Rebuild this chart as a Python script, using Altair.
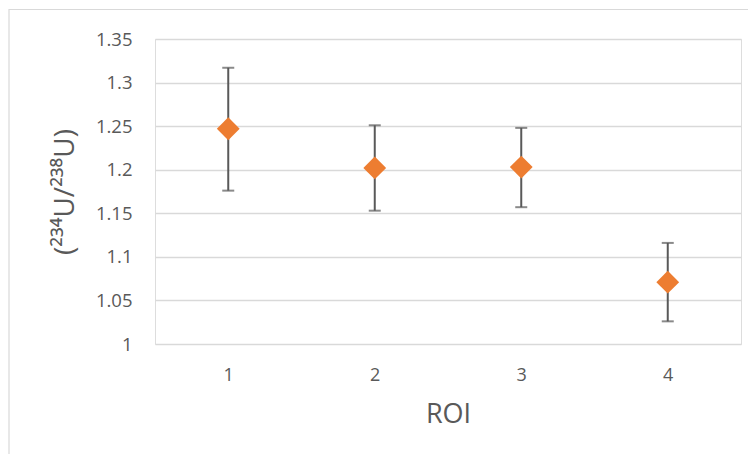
import altair as alt
import pandas as pd

roi = ["1", "2", "3", "4"]
ratio = [1.247, 1.202, 1.203, 1.071]
err_low = [1.176, 1.153, 1.157, 1.026]
err_high = [1.317, 1.251, 1.248, 1.116]
y_ticks = [1.0, 1.05, 1.1, 1.15, 1.2, 1.25, 1.3, 1.35]

df = pd.DataFrame({"roi": roi, "ratio": ratio, "low": err_low, "high": err_high})

FONT = "Open Sans"
GRAY = "#595959"

x_enc = alt.X(
    "roi:O",
    scale=alt.Scale(type="point", padding=0.5),
    axis=alt.Axis(
        title="ROI", labelAngle=0, domain=False, ticks=False, grid=False,
        labelFont=FONT, labelFontSize=18, labelColor=GRAY, labelPadding=22,
        titleFont=FONT, titleFontSize=27, titleFontWeight="normal", titleColor=GRAY,
        titlePadding=17,
    ),
)
y_scale = alt.Scale(domain=[1.0, 1.35], nice=False, zero=False)
y_axis = alt.Axis(
    title="(²³⁴U/²³⁸U)", values=y_ticks, format=".2~f", domain=False, ticks=False,
    grid=True, gridColor="#d9d9d9", gridWidth=1.4,
    labelFont=FONT, labelFontSize=18.5, labelColor=GRAY, labelPadding=23,
    titleFont=FONT, titleFontSize=28, titleFontWeight="normal", titleColor=GRAY,
    titlePadding=16,
)

base = alt.Chart(df)

frame = alt.Chart(alt.Data(values=[{"a": 1}])).mark_rect(
    fill=None, stroke="#d9d9d9", strokeWidth=1.2
).encode(
    x=alt.value(-146), x2=alt.value(620), y=alt.value(-29.5), y2=alt.value(460)
)

rules = base.mark_rule(color=GRAY, strokeWidth=2).encode(
    x=x_enc,
    y=alt.Y("low:Q", scale=y_scale, axis=y_axis),
    y2="high:Q",
)
cap_hi = base.mark_tick(color=GRAY, thickness=2, size=12, orient="horizontal").encode(
    x=x_enc, y=alt.Y("high:Q", scale=y_scale)
)
cap_lo = base.mark_tick(color=GRAY, thickness=2, size=12, orient="horizontal").encode(
    x=x_enc, y=alt.Y("low:Q", scale=y_scale)
)
points = base.mark_point(
    shape="diamond", filled=True, color="#ED7D31", size=520, opacity=1
).encode(x=x_enc, y=alt.Y("ratio:Q", scale=y_scale))

chart = alt.layer(frame, rules, cap_hi, cap_lo, points).properties(
    width=586, height=305,
    autosize=alt.AutoSizeParams(type="none"),
    padding={"left": 147, "top": 31, "right": 7, "bottom": 110},
).configure_view(stroke=None).configure(background="white")

chart.save("out.html", embed_options={"renderer": "svg", "actions": False})
